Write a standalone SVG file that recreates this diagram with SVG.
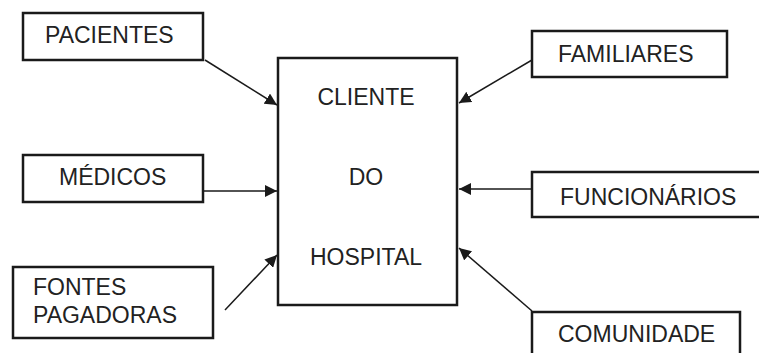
<svg xmlns="http://www.w3.org/2000/svg" width="759" height="353" viewBox="0 0 759 353">
<style>
.box{fill:#fff;stroke:#1a1a1a;stroke-width:2.5}
.t{font-family:"Liberation Sans",Arial,sans-serif;font-size:23px;fill:#222}
.c{stroke:#1a1a1a;stroke-width:1.5;fill:none;marker-end:url(#ah)}
</style>
<defs>
<marker id="ah" viewBox="0 0 10 10" refX="10" refY="5" markerWidth="12" markerHeight="12" markerUnits="userSpaceOnUse" orient="auto">
<path d="M0,0 L10,5 L0,10 z" fill="#1a1a1a"/>
</marker>
</defs>
<rect width="759" height="353" fill="#fff"/>
<g id="connectors">
<line class="c" x1="205" y1="60" x2="277" y2="105"/>
<line class="c" x1="203" y1="191" x2="277" y2="191"/>
<line class="c" x1="225" y1="310" x2="277" y2="255"/>
<line class="c" x1="532" y1="60" x2="459" y2="103"/>
<line class="c" x1="532" y1="189" x2="459" y2="189"/>
<line class="c" x1="532" y1="311" x2="459" y2="248"/>
</g>
<g id="cliente">
<rect class="box" x="278" y="58" width="179" height="247"/>
<text class="t" x="366" y="105" text-anchor="middle">CLIENTE</text>
<text class="t" x="366" y="185" text-anchor="middle">DO</text>
<text class="t" x="366" y="265" text-anchor="middle">HOSPITAL</text>
</g>
<g id="pacientes">
<rect class="box" x="23" y="13" width="180" height="47"/>
<text class="t" x="45" y="43">PACIENTES</text>
</g>
<g id="medicos">
<rect class="box" x="23" y="155" width="180" height="47"/>
<text class="t" x="59" y="185">MÉDICOS</text>
</g>
<g id="fontes">
<rect class="box" x="13" y="267" width="200" height="71"/>
<text class="t" x="33" y="295">FONTES</text>
<text class="t" x="33" y="323">PAGADORAS</text>
</g>
<g id="familiares">
<rect class="box" x="532" y="31" width="195" height="46"/>
<text class="t" x="558" y="62">FAMILIARES</text>
</g>
<g id="funcionarios">
<rect class="box" x="532" y="172" width="232" height="45"/>
<text class="t" x="560" y="205">FUNCIONÁRIOS</text>
</g>
<g id="comunidade">
<rect class="box" x="532" y="312" width="208" height="50"/>
<text class="t" x="558" y="342">COMUNIDADE</text>
</g>
</svg>
